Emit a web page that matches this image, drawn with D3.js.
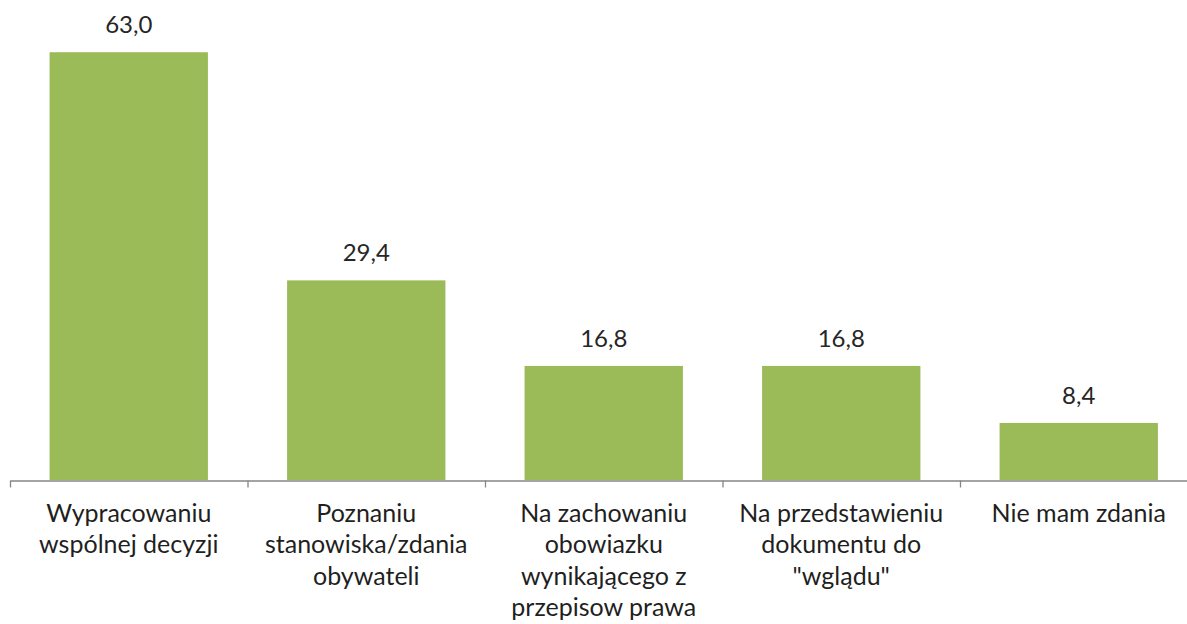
<!DOCTYPE html>
<html>
<head>
<meta charset="utf-8">
<script src="https://cdn.jsdelivr.net/npm/d3@7"></script>
<style>
  body { margin: 0; background: #fff; }
  svg text { font-family: Lato, "Liberation Sans", sans-serif; }
</style>
</head>
<body>
<div id="chart"></div>
<script>
// Chart data
const categories = [
  ['Wypracowaniu', 'wspólnej decyzji'],
  ['Poznaniu', 'stanowiska/zdania', 'obywateli'],
  ['Na zachowaniu', 'obowiazku', 'wynikającego z', 'przepisow prawa'],
  ['Na przedstawieniu', 'dokumentu do', '"wglądu"'],
  ['Nie mam zdania']
];
const values = [63.0, 29.4, 16.8, 16.8, 8.4];
const valueLabels = ['63,0', '29,4', '16,8', '16,8', '8,4'];

const width = 1187, height = 624;
const axisY = 480.5;
const left = 10, step = 237.5;

const svg = d3.select('#chart')
  .append('svg')
  .attr('width', width)
  .attr('height', height);

const keys = categories.map((c, i) => i);
const x = d3.scaleBand()
  .domain(keys)
  .range([left, left + step * keys.length])
  .paddingInner(1 / 3)
  .paddingOuter(1 / 6);
const y = d3.scaleLinear().domain([0, 70]).range([axisY - 0.5, axisY - 0.5 - 70 * 6.79]);

// Bars
svg.selectAll('rect.bar')
  .data(values)
  .enter().append('rect')
  .attr('class', 'bar')
  .attr('x', (d, i) => x(i))
  .attr('y', d => y(d))
  .attr('width', x.bandwidth())
  .attr('height', d => y(0) - y(d))
  .attr('fill', '#9bbb59');

// Value labels
svg.selectAll('text.val')
  .data(values)
  .enter().append('text')
  .attr('class', 'val')
  .attr('x', (d, i) => x(i) + x.bandwidth() / 2)
  .attr('y', d => y(d) - 19)
  .attr('text-anchor', 'middle')
  .attr('font-size', 24)
  .attr('fill', '#262626')
  .text((d, i) => valueLabels[i]);

// Category axis, ticks between categories
const edge = d3.scaleLinear().domain([0, keys.length]).range([left, left + step * keys.length]);
svg.append('g')
  .attr('transform', `translate(0,${axisY})`)
  .call(d3.axisBottom(edge).ticks(keys.length).tickSize(7).tickSizeOuter(0).tickFormat(''))
  .call(g => g.selectAll('path, line').attr('stroke', '#868686').attr('stroke-width', 1.3));

// Category labels
const lab = svg.selectAll('text.cat')
  .data(categories)
  .enter().append('text')
  .attr('class', 'cat')
  .attr('text-anchor', 'middle')
  .attr('font-size', 25)
  .attr('fill', '#1f1f1f');
lab.selectAll('tspan')
  .data((d, i) => d.map(t => ({t, i})))
  .enter().append('tspan')
  .attr('x', d => x(d.i) + x.bandwidth() / 2)
  .attr('y', (d, j) => 522 + j * 31.3)
  .text(d => d.t);
</script>
</body>
</html>
